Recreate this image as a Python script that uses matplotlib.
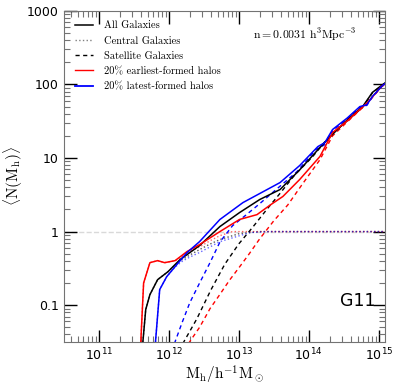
import matplotlib
matplotlib.use('Agg')
import matplotlib.pyplot as plt
from matplotlib.lines import Line2D
from matplotlib.ticker import FuncFormatter, LogLocator
import numpy as np

plt.rcParams['mathtext.fontset'] = 'cm'

# ---------------- data: log10(M_h) and <N(M_h)> -----------------
# all galaxies (central + satellite)
all_lm = [11.61, 11.63, 11.67, 11.73, 11.84, 11.99, 12.16, 12.44, 12.73, 13.01, 13.30,
          13.59, 13.87, 14.16, 14.34, 14.55, 14.77, 14.91, 15.04, 15.09]
all_n = [0.01, 0.032, 0.087, 0.139, 0.222, 0.286, 0.416, 0.645, 1.17, 1.81, 2.73,
         3.73, 6.9, 13.9, 21.0, 33.0, 50.0, 78.0, 97.0, 105.0]
early_lm = [11.586, 11.60, 11.64, 11.73, 11.84, 11.94, 12.09, 12.26, 12.44, 12.73, 13.01,
            13.26, 13.45, 13.63, 13.87, 14.16, 14.34, 14.55, 14.73, 14.84, 15.04, 15.09]
early_n = [0.01, 0.032, 0.20, 0.378, 0.403, 0.378, 0.403, 0.535, 0.666, 1.0, 1.46,
           1.70, 2.3, 3.0, 5.1, 10.5, 22.2, 32.0, 45.7, 56.9, 94.0, 102.0]
late_lm = [11.80, 11.81, 11.87, 11.97, 12.09, 12.26, 12.44, 12.73, 13.06, 13.59, 13.87,
           14.13, 14.23, 14.34, 14.55, 14.73, 14.83, 14.91, 15.04, 15.09]
late_n = [0.01, 0.032, 0.163, 0.244, 0.334, 0.518, 0.731, 1.46, 2.48, 4.64, 7.9,
          14.3, 16.2, 24.4, 35.0, 50.0, 53.0, 68.7, 94.0, 103.0]

# central galaxies
cen_all_lm = [11.61, 11.63, 11.67, 11.73, 11.84, 11.99, 12.16, 12.30, 12.44, 12.58, 12.73,
              13.01, 13.30, 13.6, 15.09]
cen_all_n = [0.01, 0.032, 0.087, 0.139, 0.222, 0.286, 0.40, 0.48, 0.57, 0.67, 0.78,
             0.94, 1.0, 1.0, 1.0]
cen_early_lm = [11.586, 11.60, 11.64, 11.73, 11.84, 11.94, 12.09, 12.26, 12.44, 12.60,
                12.73, 12.91, 13.2, 15.09]
cen_early_n = [0.01, 0.032, 0.20, 0.378, 0.403, 0.378, 0.40, 0.51, 0.62, 0.76,
               0.88, 1.0, 1.0, 1.0]
cen_late_lm = [11.80, 11.81, 11.87, 11.97, 12.09, 12.20, 12.30, 12.44, 12.73, 13.16,
               13.44, 15.09]
cen_late_n = [0.01, 0.032, 0.163, 0.244, 0.33, 0.40, 0.45, 0.52, 0.73, 0.97,
              1.0, 1.0]

# satellite galaxies
sat_all_lm = [12.20, 12.40, 12.60, 12.80, 13.00, 13.20, 13.40, 13.60, 13.80, 14.05,
              14.30, 14.55, 14.77, 14.91, 15.04, 15.09]
sat_all_n = [0.03, 0.065, 0.16, 0.36, 0.68, 1.15, 2.0, 3.4, 5.9, 10.3,
             20.0, 32.0, 49.0, 77.0, 96.0, 104.0]
sat_early_lm = [12.28, 12.44, 12.59, 12.73, 12.87, 13.01, 13.15, 13.30, 13.50, 13.70,
                13.90, 14.16, 14.34, 14.55, 14.73, 14.84, 15.04, 15.09]
sat_early_n = [0.03, 0.05, 0.09, 0.14, 0.22, 0.33, 0.50, 0.80, 1.4, 2.3,
               4.3, 9.5, 20.0, 31.0, 44.7, 55.9, 93.0, 101.0]
sat_late_lm = [12.08, 12.19, 12.30, 12.44, 12.59, 12.73, 12.91, 13.11, 13.30, 13.50,
               13.83, 14.10, 14.23, 14.34, 14.55, 14.73, 14.83, 14.91, 15.04, 15.09]
sat_late_n = [0.03, 0.058, 0.108, 0.20, 0.38, 0.72, 1.2, 1.7, 2.4, 3.5,
              6.5, 13.0, 15.2, 23.4, 34.0, 49.0, 52.0, 67.7, 93.0, 102.0]

legend_labels = ['All Galaxies', 'Central Galaxies', 'Satellite Galaxies',
                 '20% earliest-formed halos', '20% latest-formed halos']


def plot_hod():
    fig = plt.figure(figsize=(3.99, 3.89), dpi=100)
    ax = fig.add_axes([0.160, 0.121, 0.805, 0.851])

    ax.axhline(1.0, color='0.85', ls='--', lw=1.0, zorder=0)

    # ---- centrals (dotted)
    ax.plot(10**np.array(cen_all_lm), cen_all_n, color='0.35', ls=':', lw=1.0)
    ax.plot(10**np.array(cen_early_lm), cen_early_n, color='red', ls=':', lw=1.0, alpha=0.6)
    ax.plot(10**np.array(cen_late_lm), cen_late_n, color='blue', ls=':', lw=1.0, alpha=0.6)

    # ---- satellites (dashed)
    ax.plot(10**np.array(sat_all_lm), sat_all_n, color='black', ls=(0, (3, 2.5)), lw=1.0)
    ax.plot(10**np.array(sat_early_lm), sat_early_n, color='red', ls=(0, (3, 2.5)), lw=1.0)
    ax.plot(10**np.array(sat_late_lm), sat_late_n, color='blue', ls=(0, (3, 2.5)), lw=1.0)

    # ---- all galaxies (solid)
    ax.plot(10**np.array(all_lm), all_n, color='black', lw=1.1)
    ax.plot(10**np.array(early_lm), early_n, color='red', lw=1.1)
    ax.plot(10**np.array(late_lm), late_n, color='blue', lw=1.1)

    ax.set_xscale('log')
    ax.set_yscale('log')
    ax.set_xlim(10**10.5, 10**15.09)
    ax.set_ylim(10**-1.5, 1000)

    ax.set_xticks([1e11, 1e12, 1e13, 1e14, 1e15])
    ax.xaxis.set_minor_locator(LogLocator(base=10, subs=np.arange(2, 10), numticks=20))
    ax.set_yticks([0.1, 1, 10, 100, 1000])
    ax.yaxis.set_minor_locator(LogLocator(base=10, subs=np.arange(2, 10), numticks=20))
    ax.yaxis.set_major_formatter(FuncFormatter(lambda v, p: '%g' % v))

    ax.tick_params(which='both', direction='in', top=True, right=True, labelsize=9)
    ax.tick_params(which='major', length=9, width=1.0, color='black')
    ax.tick_params(which='minor', length=4, width=0.8, color='0.45')
    for sp in ax.spines.values():
        sp.set_color('0.45')

    ax.set_xlabel(r'$\mathrm{M_h/h^{-1}M_\odot}$', fontsize=11, labelpad=0)
    ax.set_ylabel(r'$\langle\mathrm{N(M_h)}\rangle$', fontsize=11)
    ax.yaxis.set_label_coords(-0.12, 0.5)

    handles = [Line2D([], [], color='black', lw=1.1),
               Line2D([], [], color='0.5', ls=':', lw=1.0),
               Line2D([], [], color='black', ls=(0, (3, 2.5)), lw=1.0),
               Line2D([], [], color='red', lw=1.0),
               Line2D([], [], color='blue', lw=1.3)]
    ax.legend(handles, legend_labels, loc='upper left', frameon=False,
              prop={'family': 'cmr10', 'size': 7.5}, handlelength=1.7,
              handletextpad=1.0, labelspacing=0.55, borderaxespad=0.4,
              bbox_to_anchor=(0.01, 0.995))

    ax.text(0.75, 0.925, r'$\mathrm{n = 0.0031\ h^3Mpc^{-3}}$', transform=ax.transAxes,
            ha='center', va='center', fontsize=8.5)
    ax.text(0.915, 0.125, 'G11', transform=ax.transAxes, ha='center', va='center',
            fontsize=12.5)

    fig.savefig('out.png', dpi=100)


if __name__ == '__main__':
    plot_hod()
